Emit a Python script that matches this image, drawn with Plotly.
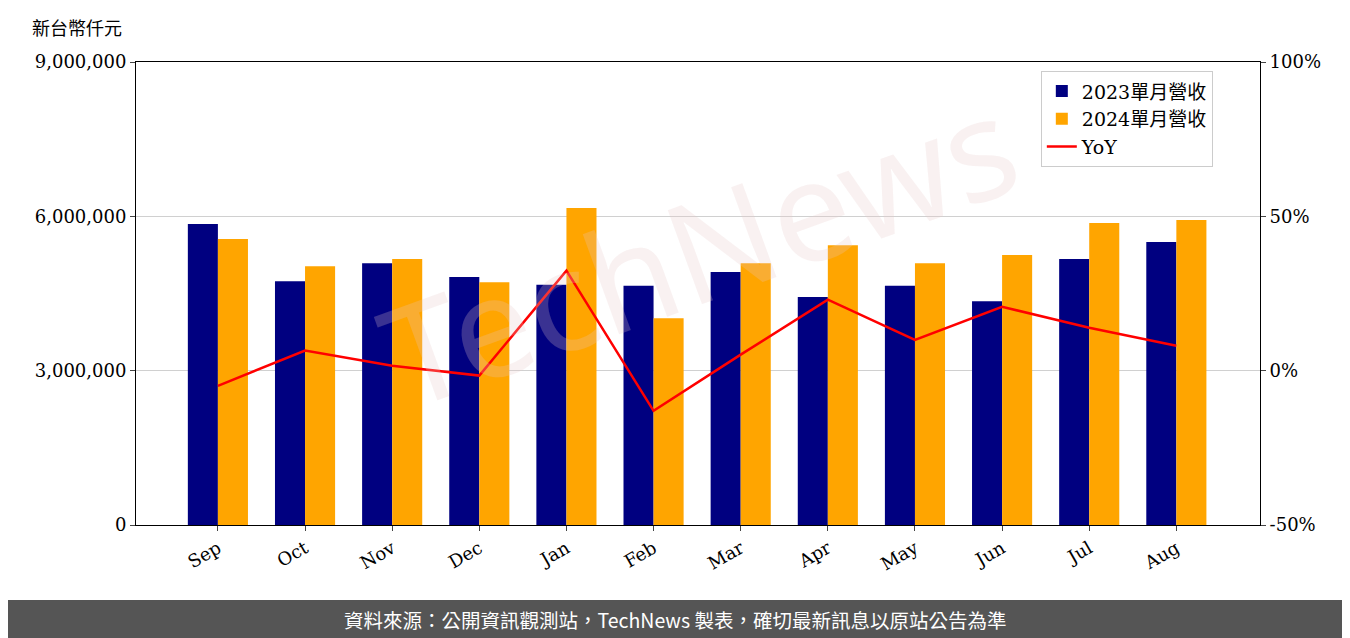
import plotly.graph_objects as go

months = ["Sep","Oct","Nov","Dec","Jan","Feb","Mar","Apr","May","Jun","Jul","Aug"]
rev2023 = [5850000,4740000,5090000,4820000,4670000,4650000,4920000,4430000,4650000,4350000,5170000,5500000]
rev2024 = [5560000,5030000,5170000,4720000,6160000,4020000,5090000,5440000,5090000,5250000,5870000,5930000]
yoy = [-4.9,6.5,1.6,-1.6,32.4,-13.0,5.2,23.0,10.0,20.7,13.9,8.1]

F = "DejaVu Serif, Noto Sans CJK TC"
fig = go.Figure()
fig.add_bar(x=months, y=rev2023, name="2023單月營收", marker=dict(color="#000080", line_width=0))
fig.add_bar(x=months, y=rev2024, name="2024單月營收", marker=dict(color="#FFA500", line_width=0))
fig.add_scatter(x=months, y=yoy, name="YoY", yaxis="y2", mode="lines",
                line=dict(color="red", width=2.5))
fig.update_layout(
    width=1350, height=638, paper_bgcolor="white", plot_bgcolor="white",
    margin=dict(l=128, r=98, t=54, b=121, autoexpand=False), barmode="group", bargap=0.31, bargroupgap=0,
    font=dict(family=F, size=18, color="black"),
    xaxis=dict(tickangle=-30, showline=True, linecolor="black", mirror=True, ticks="outside",
               range=[-0.94, 11.96], automargin=False),
    yaxis=dict(range=[0, 9000000], tickvals=[0,3000000,6000000,9000000], tickformat=",d",
               showline=True, linecolor="black", ticks="outside", showgrid=True, automargin=False,
               gridcolor="#d0d0d0", zeroline=False),
    yaxis2=dict(range=[-50, 100], overlaying="y", side="right", tickvals=[-50,0,50,100],
                ticktext=["-50%","0%","50%","100%"], showline=True, linecolor="black",
                ticks="outside", showgrid=False, zeroline=False, automargin=False),
    legend=dict(x=0.805, y=0.98, xanchor="left", yanchor="top", bordercolor="#cccccc",
                borderwidth=1, bgcolor="rgba(255,255,255,0.8)", font=dict(size=19)),
    showlegend=True,
)
fig.add_annotation(text="新台幣仟元", xref="paper", yref="paper", x=-0.094, y=1.076,
                   showarrow=False, xanchor="left", yanchor="middle",
                   font=dict(size=18, family="Noto Sans CJK TC"))
fig.add_annotation(text="TechNews", xref="paper", yref="paper", x=0.5, y=0.6,
                   showarrow=False, textangle=-20,
                   font=dict(size=140, family="Noto Sans", color="rgba(230,200,200,0.25)"))
fig.add_shape(type="rect", xref="paper", yref="paper", x0=-0.3, x1=1.2,
              y0=-0.4, y1=-0.162, fillcolor="#555555", line_width=0, layer="above")
fig.add_annotation(text="資料來源：公開資訊觀測站，TechNews 製表，確切最新訊息以原站公告為準",
                   xref="paper", yref="paper", x=0.4795, y=-0.205, showarrow=False, yanchor="middle",
                   font=dict(size=19.5, color="white", family="Noto Sans CJK TC"))
fig.write_html("out.html")
